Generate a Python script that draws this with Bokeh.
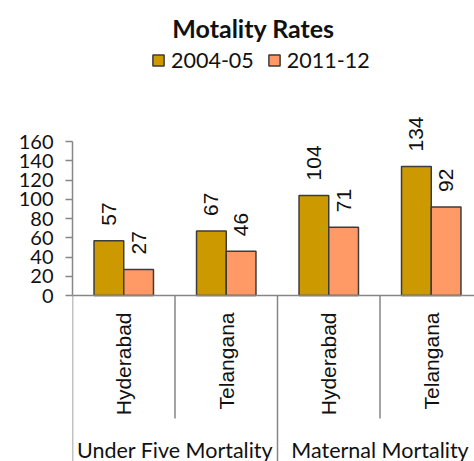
import numpy as np
from bokeh.plotting import figure
from bokeh.models import Range1d, Label, Legend, LegendItem, Span, FixedTicker
from bokeh.core.properties import value
from bokeh.embed import file_html
from bokeh.resources import INLINE

# ---- data ----
groups = ["Under Five Mortality", "Maternal Mortality"]
regions = ["Hyderabad", "Telangana", "Hyderabad", "Telangana"]
series_names = ["2004-05", "2011-12"]
rates_2004_05 = [57, 67, 104, 134]
rates_2011_12 = [27, 46, 71, 92]
y_ticks = [0, 20, 40, 60, 80, 100, 120, 140, 160]
title_text = "Motality Rates"

# ---- layout constants (pixels) ----
W, H = 474, 461
LEFT = 72
ZERO_PX = 295
PX_PER_UNIT = 154 / 160
CAT_PX = 102.5
BAR_W = 0.29

GOLD = "#CC9900"
SALMON = "#FF9966"
EDGE = "#3C3C3C"
AXIS = "#868686"

y_top = ZERO_PX / PX_PER_UNIT
y_bot = -(H - ZERO_PX) / PX_PER_UNIT
x_end = (W - LEFT) / CAT_PX


def px_to_x(px):
    return (px - LEFT) / CAT_PX


def px_to_y(py):
    return (ZERO_PX - py) / PX_PER_UNIT


p = figure(width=W, height=H, output_backend="svg", toolbar_location=None,
           x_range=Range1d(0, x_end), y_range=Range1d(y_bot, y_top),
           x_axis_location=None, min_border_left=LEFT, min_border_right=0,
           min_border_top=0, min_border_bottom=0)
p.outline_line_color = None
p.grid.visible = False
p.background_fill_color = "white"
p.border_fill_color = "white"

ax = p.yaxis[0]
ax.ticker = FixedTicker(ticks=y_ticks)
ax.bounds = (0, 160)
ax.axis_line_color = AXIS
ax.axis_line_width = 1.5
ax.major_tick_line_color = AXIS
ax.major_tick_line_width = 1.5
ax.major_tick_out = 7
ax.major_tick_in = 0
ax.minor_tick_line_color = None
ax.major_label_standoff = 12
ax.major_label_text_font = "Lato"
ax.major_label_text_font_size = "20px"
ax.major_label_text_color = "#111111"

n = len(regions)
centers = np.arange(n) + 0.5

r1 = p.vbar(x=centers - BAR_W / 2, top=rates_2004_05, width=BAR_W, bottom=0,
            fill_color=GOLD, line_color=EDGE, line_width=1.5)
r2 = p.vbar(x=centers + BAR_W / 2, top=rates_2011_12, width=BAR_W, bottom=0,
            fill_color=SALMON, line_color=EDGE, line_width=1.5)

# x axis line
p.add_layout(Span(location=0, dimension="width", line_color=AXIS, line_width=1.5))

# separators
bounds_x = np.arange(n + 1)
inner = [b for b in bounds_x if b % 2 == 1]
outer = [b for b in bounds_x if b % 2 == 0]
p.segment(x0=inner, y0=0, x1=inner, y1=px_to_y(418), line_color=AXIS, line_width=1.5)
p.segment(x0=outer, y0=0, x1=outer, y1=y_bot, line_color=AXIS, line_width=1.5)

# data labels
lab_off = 15 / PX_PER_UNIT
for xs, vals in ((centers - BAR_W / 2, rates_2004_05), (centers + BAR_W / 2, rates_2011_12)):
    p.text(x=xs, y=np.array(vals) + lab_off, text=[str(v) for v in vals],
           angle=np.pi / 2, text_align="left", text_baseline="middle",
           text_font=value("Liberation Sans"), text_font_size="21px", text_color="#111111")

# category labels
p.text(x=centers, y=[px_to_y(312)] * n, text=regions, angle=np.pi / 2,
       text_align="right", text_baseline="middle",
       text_font=value("Liberation Sans"), text_font_size="21px", text_color="#111111")

# group labels
group_centers = [1.0, 3.0]
p.text(x=group_centers, y=[px_to_y(449)] * 2, text=groups,
       text_align="center", text_baseline="middle",
       text_font=value("Lato"), text_font_size="21.5px", text_color="#111111")

# title
p.add_layout(Label(x=px_to_x(253), y=px_to_y(27),
                   text=title_text, text_align="center", text_baseline="middle",
                   text_font="Lato", text_font_size="25px", text_font_style="bold",
                   text_color="#111111"))

legend = Legend(items=[LegendItem(label=series_names[0], renderers=[r1]),
                       LegendItem(label=series_names[1], renderers=[r2])],
                orientation="horizontal", location=(153 - LEFT - 2, H - 73),
                glyph_width=14, glyph_height=14, label_standoff=6, spacing=13,
                padding=0, margin=0, border_line_color=None, background_fill_alpha=0,
                label_text_font="Lato", label_text_font_size="21.5px",
                label_text_color="#111111")
p.add_layout(legend)

open("out.html", "w").write(file_html(p, INLINE))
